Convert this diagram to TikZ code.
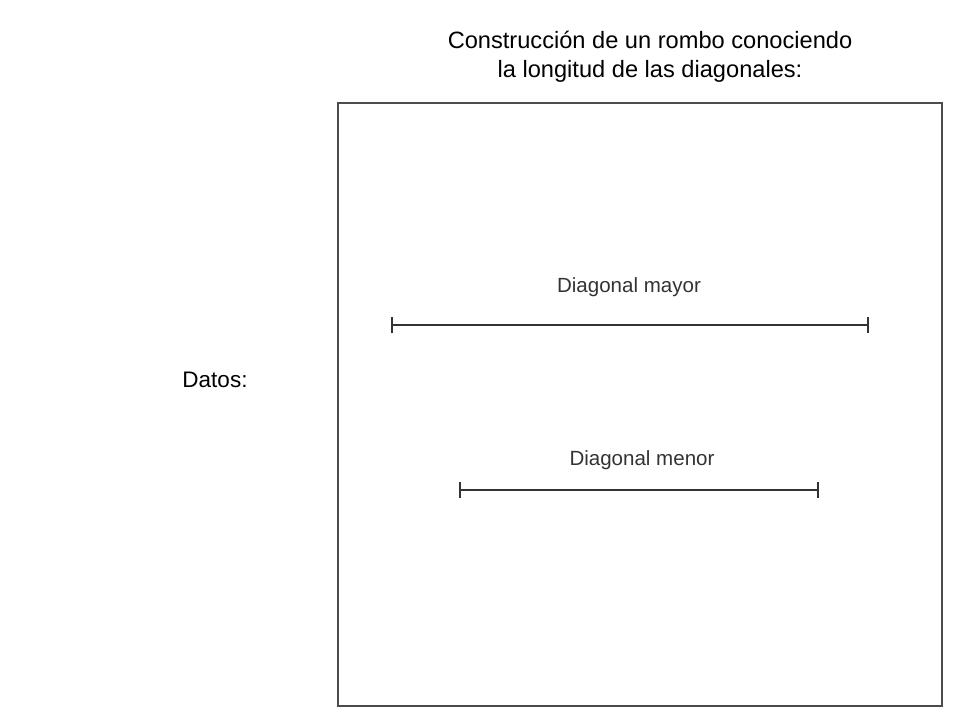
\documentclass[tikz,border=0pt]{standalone}
\usepackage{fontspec}
\setmainfont{Liberation Sans}
\usetikzlibrary{arrows.meta, positioning}

\begin{document}
\begin{tikzpicture}[x=0.025cm, y=-0.025cm,
      title/.style={font=\fontsize{16.8}{20.5}\selectfont, align=center},
      lbl/.style={font=\fontsize{14.6}{17}\selectfont, text=black!80},
      seg/.style={{Bar[width=12pt]}-{Bar[width=12pt]}, line width=1.2pt, black!80}
    ]
      \useasboundingbox (0,0) rectangle (960,720);
      \node[title] (tit) at (650,57) {Construcción de un rombo conociendo\\la longitud de las diagonales:};
      \node[font=\fontsize{16}{19}\selectfont] (dat) at (215,380) {Datos:};
      \draw[black!70, line width=0.8pt] (338,103) rectangle (942,706);

      % diagonales
      \coordinate (m1) at (391,325);
      \coordinate (m2) at (869,325);
      \coordinate (n1) at (459,490);
      \coordinate (n2) at (819,490);
      \draw[seg] (m1) -- (m2);
      \draw[seg] (n1) -- (n2);
      \node[lbl] (lm) at (629,287) {Diagonal mayor};
      \node[lbl] (ln) at (642,460) {Diagonal menor};
    \end{tikzpicture}
\end{document}
